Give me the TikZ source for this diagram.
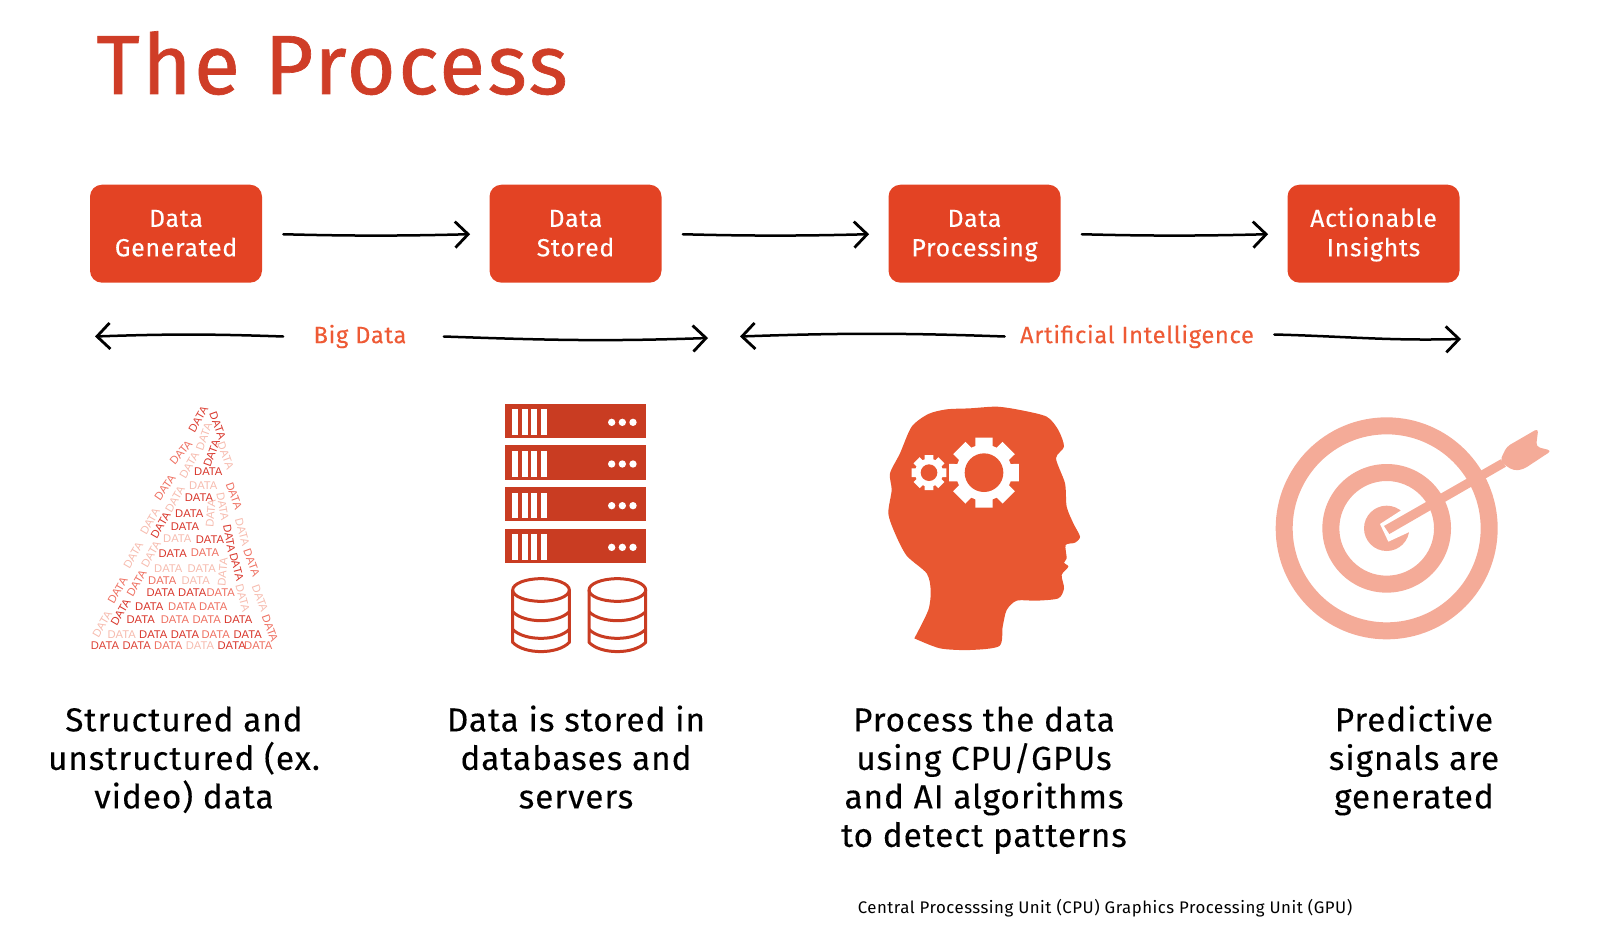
\documentclass[tikz,border=0pt]{standalone}
\usepackage{fontspec}
\usetikzlibrary{arrows.meta}
\newfontfamily\uifont[LetterSpace=3]{Fira Sans}
\newfontfamily\uibold[LetterSpace=3,FakeBold=0.25]{Fira Sans}
\newfontfamily\uititle[LetterSpace=3,FakeBold=0.8]{Fira Sans}
\newfontfamily\wordfont{Liberation Sans}
\definecolor{titlered}{HTML}{CF3D27}
\definecolor{boxred}{HTML}{E34324}
\definecolor{labelred}{HTML}{EE5A35}
\definecolor{serverred}{HTML}{C93C22}
\definecolor{headred}{HTML}{E85731}
\definecolor{targetpink}{HTML}{F4AB98}
\definecolor{dk}{HTML}{D8352A}
\definecolor{md}{HTML}{EE6F60}
\definecolor{lt}{HTML}{F6BBAE}
\newcommand{\boxtop}{\rule{0pt}{12.3pt}}
\tikzset{
  procbox/.style={fill=boxred,rounded corners=6pt,minimum width=86pt,minimum height=49pt,inner sep=0pt,text=white,align=center,font=\uibold\fontsize{12.4}{14.7}\selectfont},
  flow/.style={draw=black,line width=1.25pt,-{Straight Barb[length=6.5pt,width=13pt,line width=1.4pt]},line cap=round},
  span/.style={text=labelred,inner sep=0pt,font=\uibold\fontsize{11.8}{14}\selectfont},
  caption/.style={inner sep=0pt,align=center,anchor=north,text=black,font=\uibold\fontsize{16.6}{19.25}\selectfont},
  word/.style={inner sep=0pt,font=\wordfont\fontsize{5.6}{7}\selectfont},
  zoomed/.style={x=0.16667pt,y=-0.16667pt}
}
\newcommand{\gearpath}[3]{% outer radius, root radius, tooth half-angle
  (90-#3:#1) \foreach \g in {0,45,...,315} { -- (90+\g-#3:#1) -- (90+\g+#3:#1) -- (90+\g+#3+4:#2) -- (90+\g+45-#3-4:#2) } -- cycle}
\begin{document}
\begin{tikzpicture}[x=0.5pt,y=-0.5pt]
\useasboundingbox (0,0) rectangle (1600,941);
\node[anchor=base west,inner sep=0pt,text=titlered,font=\uititle\fontsize{42}{50}\selectfont] (title) at (96,94) {The Process};

\node[procbox] (b1) at (176,233.7) {\boxtop Data\\\strut Generated};
\node[procbox] (b2) at (575.5,233.7) {\boxtop Data\\\strut Stored};
\node[procbox] (b3) at (974.5,233.7) {\boxtop Data\\\strut Processing};
\node[procbox] (b4) at (1373.5,233.7) {\boxtop Actionable\\\strut Insights};
\draw[flow,shorten <=10.5pt,shorten >=9.5pt] (b1.east) to[out=-1.5,in=181.5] (b2.west);
\draw[flow,shorten <=10.5pt,shorten >=9.5pt] (b2.east) to[out=-1.5,in=181.5] (b3.west);
\draw[flow,shorten <=10.5pt,shorten >=9.5pt] (b3.east) to[out=-1.5,in=181.5] (b4.west);

\node[span] (big) at (360,336.5) {Big Data};
\node[span] (ai) at (1137,336.5) {Artificial Intelligence};
\coordinate (bigL) at (95,336.5);
\coordinate (bigR) at (708,338);
\coordinate (aiL) at (740,336.5);
\coordinate (aiR) at (1461,339);
\draw[flow] ([xshift=-15pt]big.west) to[out=178,in=2] (bigL);
\draw[flow] ([xshift=18.5pt]big.east) to[out=-2,in=182] (bigR);
\draw[flow] ([xshift=-7.5pt]ai.west) to[out=178,in=2] (aiL);
\draw[flow] ([shift={(10pt,1pt)}]ai.east) to[out=-1.5,in=181.5] (aiR);

% data word triangle
\begin{scope}[shift={(70,390)},zoomed]
\foreach \px/\py/\ang/\col [count=\i] in {
105/768/0/dk!80!md,200/768/0/dk!80!md,295/768/0/md,390/768/0/lt,485/768/0/dk,565/768/0/md,
155/733/0/lt,250/733/0/dk,345/733/0/dk,437/733/0/md,533/733/0/dk,
212/690/0/dk,315/690/0/md,410/690/0/md,505/690/0/dk,
238/650/0/dk,337/650/0/md,430/650/0/md,
272/608/0/dk,367/608/0/dk,452/608/0/md,
277/573/0/md,377/573/0/lt,
295/535/0/lt,395/535/0/lt,
308/490/0/dk,405/488/0/md,
322/447/0/lt,420/450/0/dk,
345/410/0/dk,358/370/0/dk,387/323/0/dk,400/287/0/lt,415/245/0/dk,
385/87/60/dk!80!md,333/188/50/md,285/292/55/md,240/395/60/lt,190/495/60/lt,143/602/60/md,97/703/60/lt,
152/667/60/dk,200/580/60/md,243/492/60/lt,272/405/60/dk,315/327/60/lt,358/225/60/lt,402/140/70/lt,425/190/70/dk,
443/107/-70/dk,467/197/-70/lt,492/318/-70/md,517/427/-75/lt,545/518/-70/md,570/625/-70/lt,600/715/-70/md,
518/625/-75/lt,500/530/-75/dk,478/445/-80/dk,458/350/-80/lt,422/370/85/lt,458/545/85/lt}
{\node[word,text=\col,rotate=\ang] (d\i) at (\px,\py) {DATA};}
\end{scope}

% servers
\begin{scope}[shift={(490,390)},zoomed]
\foreach \t in {41,166,291,416} {
  \fill[serverred] (45,\t) rectangle (468,\t+103);
  \foreach \bx in {67,96,124,153} \fill[white] (\bx,\t+17) rectangle (\bx+17.5,\t+94);
  \foreach \dx in {365,397,429} \fill[white] (\dx,\t+56) circle[radius=11];
}
\foreach \cx in {153,382} {
  \begin{scope}[shift={(\cx,0)},line width=1.5pt,line join=round]
  \draw[serverred] (0,600) ellipse[x radius=85,y radius=34];
  \draw[serverred] (-85,600) -- (-85,757) .. controls (-50,794) and (50,794) .. (85,757) -- (85,600);
  \draw[serverred] (-85,665) .. controls (-50,701) and (50,701) .. (85,665);
  \draw[serverred] (-85,718) .. controls (-50,754) and (50,754) .. (85,718);
  \end{scope}
}
\end{scope}

% head
\begin{scope}[shift={(870,390)},zoomed]
\fill[headred] plot[smooth,tension=0.45] coordinates {
(133,745)(175,660)(182,600)(170,550)(110,497)(75,430)(55,370)(65,300)(60,250)(90,190)(125,110)(175,72)(230,58)(300,55)(380,50)(450,60)(530,80)(565,120)(582,170)(558,205)(585,280)(590,350)(610,400)(630,440)(615,458)(587,465)(590,505)(582,518)(595,530)(575,555)(582,595)(565,625)(500,632)(440,632)(410,660)(398,710)(388,768)(300,780)(210,775)(133,745)} -- cycle;
\begin{scope}[shift={(342,248)}]
\fill[white] \gearpath{108}{84}{14};
\fill[headred] (0,0) circle[radius=58];
\end{scope}
\begin{scope}[shift={(177,248)}]
\fill[white] \gearpath{54}{42}{14};
\fill[headred] (0,0) circle[radius=25];
\end{scope}
\end{scope}

% target
\begin{scope}[shift={(1260,400)},zoomed]
\fill[targetpink,even odd rule] (380,385) circle[radius=333] (380,385) circle[radius=282];
\fill[targetpink,even odd rule] (380,385) circle[radius=193] (380,385) circle[radius=142];
\fill[targetpink] (380,385) circle[radius=68];
\fill[white] (360,372) -- (385,425) -- (450,395) -- (480,330) -- (425,330) -- cycle;
\fill[targetpink] (372,378) -- (388,402) -- (738,200) -- (722,178) -- cycle;
\fill[targetpink,rounded corners=2pt] (720,182) -- (740,140) -- (835,85) -- (828,140) -- (875,152) -- (790,208) -- (762,212) -- (738,198) -- cycle;
\end{scope}

\node[caption] (c1) at (184,704) {\strut Structured and\\\strut\smash{unstructured (ex.}\\\strut\smash{video) data}};
\node[caption] (c2) at (576,704) {\strut Data is stored in\\\strut databases and\\\strut servers};
\node[caption] (c3) at (984,704) {\strut Process the data\\\strut using CPU/GPUs\\\strut and AI algorithms\\\strut to detect patterns};
\node[caption] (c4) at (1414,704) {\strut Predictive\\\strut signals are\\\strut generated};
\node[inner sep=0pt,text=black,font=\uifont\fontsize{8.4}{10}\selectfont] (note) at (1105,908) {Central Processsing Unit (CPU) Graphics Processing Unit (GPU)};
\end{tikzpicture}
\end{document}
